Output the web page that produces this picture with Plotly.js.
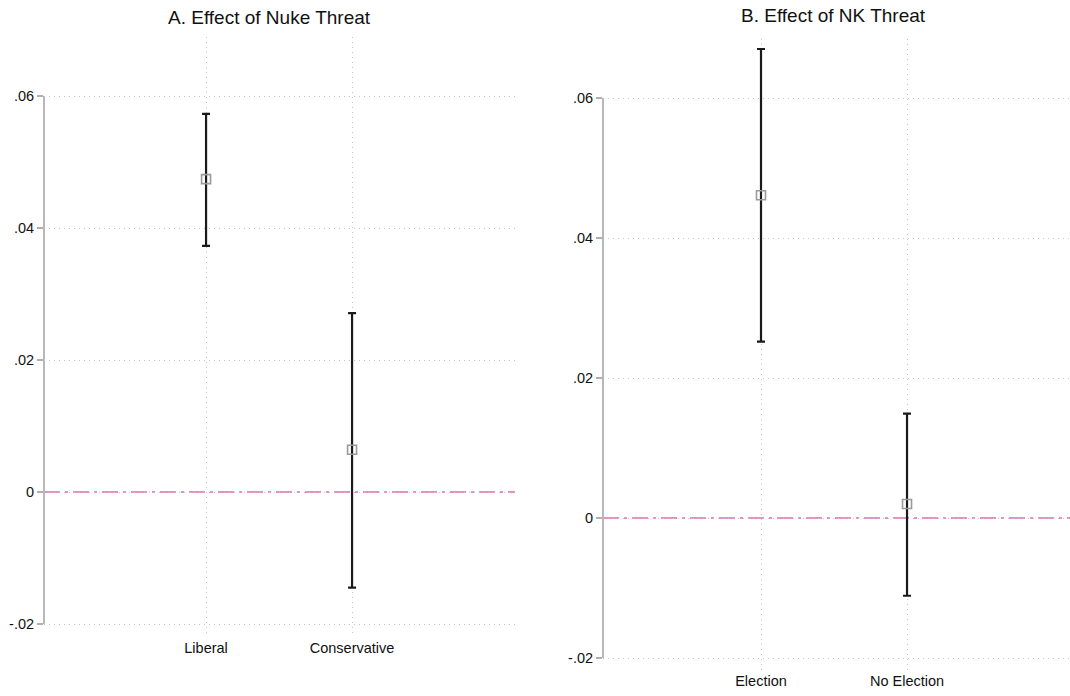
<!DOCTYPE html>
<html>
<head>
<meta charset="utf-8">
<script src="https://cdn.plot.ly/plotly-3.0.1.min.js"></script>
<style>html,body{margin:0;padding:0;background:#fff;}#chart{width:1070px;height:696px;}</style>
</head>
<body>
<div id="chart"></div>
<script>
// Panel A: Effect of Nuke Threat
const catsA = ['Liberal', 'Conservative'];
const posA = [1, 2];
const estA = [0.0474, 0.0064];
const lowA = [0.0373, -0.0145];
const upA = [0.0573, 0.0271];

// Panel B: Effect of NK Threat
const catsB = ['Election', 'No Election'];
const posB = [1, 2];
const estB = [0.0461, 0.0020];
const lowB = [0.0252, -0.0111];
const upB = [0.0670, 0.0149];

const yTickVals = [-0.02, 0, 0.02, 0.04, 0.06];
const yTickText = ['-.02', '0', '.02', '.04', '.06'];

const titleA = 'A. Effect of Nuke Threat';
const titleB = 'B. Effect of NK Threat';

const FONT = 'Liberation Sans, Arial, Helvetica, sans-serif';

function trace(pos, est, low, up, xa, ya) {
  return {
    type: 'scatter', mode: 'markers', x: pos, y: est, xaxis: xa, yaxis: ya,
    marker: {symbol: 'square-open', size: 9, color: '#9a9a9a', line: {width: 1.6, color: '#9a9a9a'}},
    error_y: {type: 'data', symmetric: false,
      array: up.map((u, i) => u - est[i]),
      arrayminus: low.map((l, i) => est[i] - l),
      color: '#1a1a1a', thickness: 2.2, width: 4},
    showlegend: false, hoverinfo: 'skip'
  };
}

const data = [
  trace(posA, estA, lowA, upA, 'x', 'y'),
  trace(posB, estB, lowB, upB, 'x2', 'y2')
];

const gridStyle = {showgrid: true, gridcolor: '#c4c4c4', griddash: '1px,4px', gridwidth: 1};

function yax(domain, range, anchor) {
  return Object.assign({
    domain: domain, range: range, anchor: anchor,
    tickmode: 'array', tickvals: yTickVals, ticktext: yTickText,
    ticks: 'outside', ticklen: 6, tickcolor: '#b0b0b0', tickwidth: 1.5,
    showline: false, zeroline: false,
    tickfont: {family: FONT, size: 14.5, color: '#111'}
  }, gridStyle);
}
function xax(domain, range, anchor, pos, cats) {
  return Object.assign({
    domain: domain, range: range, anchor: anchor,
    tickmode: 'array', tickvals: pos, ticktext: cats,
    ticks: '', showline: false, zeroline: false,
    tickfont: {family: FONT, size: 14.5, color: '#111'}
  }, gridStyle);
}

const pinkLine = {color: '#e58fc3', width: 2, dash: '16px,5px,3px,5px'};
const axisLine = {color: '#b8b8b8', width: 2};

const layout = {
  width: 1070, height: 696,
  margin: {l: 0, r: 0, t: 0, b: 0},
  paper_bgcolor: '#fff', plot_bgcolor: '#fff',
  font: {family: FONT, color: '#111'},
  xaxis: xax([44/1070, 515/1070], [-0.11, 3.116], 'y', posA, catsA),
  yaxis: yax([59/696, 659/696], [-0.02197, 0.06894], 'x'),
  xaxis2: xax([603/1070, 1], [-0.082, 3.116], 'y2', posB, catsB),
  yaxis2: yax([26/696, 657/696], [-0.02171, 0.06843], 'x2'),
  shapes: [
    {type: 'line', xref: 'x domain', yref: 'y', x0: 0, x1: 0, y0: -0.02, y1: 0.06, line: axisLine},
    {type: 'line', xref: 'x2 domain', yref: 'y2', x0: 0, x1: 0, y0: -0.02, y1: 0.06, line: axisLine},
    {type: 'line', xref: 'x domain', yref: 'y', x0: 0, x1: 1, y0: 0, y1: 0, line: pinkLine, layer: 'below'},
    {type: 'line', xref: 'x2 domain', yref: 'y2', x0: 0, x1: 1, y0: 0, y1: 0, line: pinkLine, layer: 'below'}
  ],
  annotations: [
    {text: titleA, xref: 'paper', yref: 'paper', x: 270/1070, y: 1 - 17/696, xanchor: 'center', yanchor: 'middle', showarrow: false, font: {family: FONT, size: 19, color: '#111'}},
    {text: titleB, xref: 'paper', yref: 'paper', x: 833/1070, y: 1 - 16/696, xanchor: 'center', yanchor: 'middle', showarrow: false, font: {family: FONT, size: 19, color: '#111'}}
  ]
};

Plotly.newPlot('chart', data, layout, {displayModeBar: false, staticPlot: true});
</script>
</body>
</html>
